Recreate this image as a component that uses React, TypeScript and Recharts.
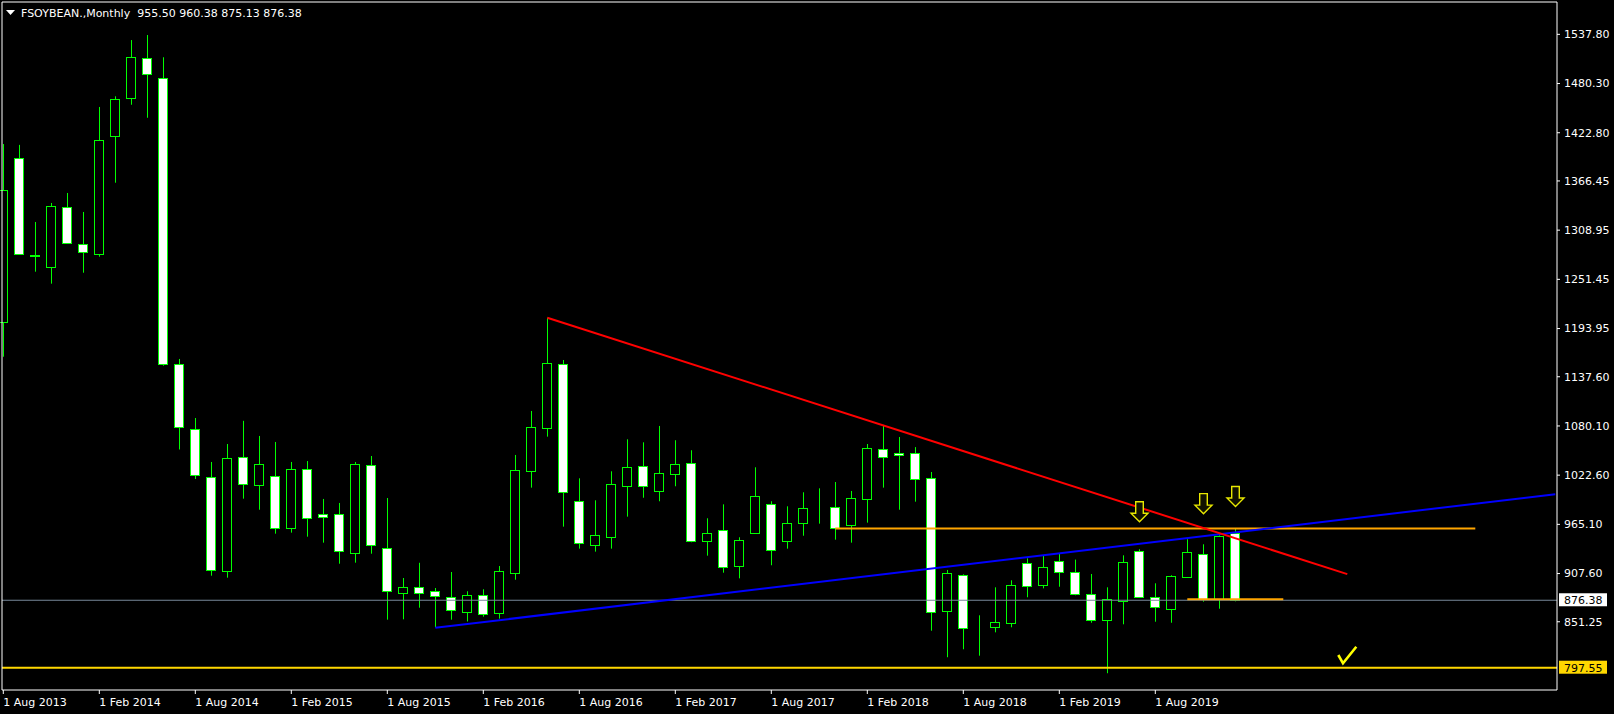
import React from 'react';
import { ComposedChart, Bar, Line, XAxis, YAxis, ReferenceLine } from 'recharts';

// monthly candles, Aug 2013 .. Jan 2020
const firstYear = 2013;
const firstMonth = 7; // Aug
const monthNames = ['Jan', 'Feb', 'Mar', 'Apr', 'May', 'Jun', 'Jul', 'Aug', 'Sep', 'Oct', 'Nov', 'Dec'];

const opens = [
  1201.9, 1393.0, 1278.5, 1265.5, 1335.6, 1292.4, 1280.7, 1418.6, 1463.0, 1509.8, 1486.4, 1152.2,
  1076.2, 1020.1, 910.2, 1043.5, 1010.8, 1021.3, 960.5, 1029.4, 976.9, 976.9, 931.3, 1034.1,
  937.1, 884.5, 891.5, 886.9, 879.9, 863.0, 882.2, 861.2, 908.6, 1027.8, 1078.1, 1152.2,
  992.1, 941.3, 950.7, 1010.3, 1033.0, 1003.8, 1023.6, 1036.5, 945.3, 958.2, 916.1, 954.7,
  988.5, 945.3, 966.3, 984.0, 985.8, 964.0, 994.4, 1052.8, 1048.5, 1048.0, 1018.9, 863.5,
  905.6, 844.6, 844.8, 849.5, 919.6, 893.9, 921.9, 909.1, 883.4, 853.0, 875.2, 933.6,
  879.9, 865.8, 903.2, 930.1, 877.5, 955.5,
];
const highs = [
  1409.6, 1408.6, 1318.5, 1340.7, 1352.4, 1330.2, 1452.9, 1465.4, 1531.1, 1537.0, 1511.0, 1158.4,
  1089.4, 1038.0, 1059.0, 1086.1, 1068.4, 1061.4, 1038.0, 1039.1, 994.8, 990.1, 1038.0, 1045.0,
  995.9, 902.4, 920.2, 890.7, 909.4, 886.9, 889.2, 916.4, 1046.2, 1097.6, 1206.6, 1157.2,
  1018.9, 993.2, 1027.1, 1064.5, 1061.0, 1080.1, 1063.4, 1051.7, 972.2, 988.5, 950.0, 1031.8,
  992.1, 986.2, 1002.6, 1007.2, 1014.6, 1004.1, 1059.0, 1081.3, 1067.2, 1055.4, 1026.3, 911.8,
  906.7, 858.8, 891.5, 899.7, 925.4, 928.5, 930.8, 923.9, 907.1, 891.5, 928.9, 936.0,
  896.2, 905.6, 947.7, 941.8, 952.3, 960.38,
];
const lows = [
  1161.0, 1280.0, 1260.4, 1246.4, 1293.4, 1259.2, 1277.9, 1364.4, 1455.5, 1440.3, 1150.5, 1052.6,
  1018.1, 905.1, 902.8, 995.1, 982.2, 954.2, 955.4, 950.7, 943.7, 919.1, 920.3, 930.8,
  853.7, 854.1, 867.7, 844.8, 853.7, 851.6, 857.2, 854.9, 900.4, 1008.0, 1067.6, 962.4,
  936.7, 933.2, 936.7, 974.1, 996.2, 992.1, 1009.6, 944.2, 928.5, 908.6, 902.0, 954.0,
  917.3, 936.7, 951.8, 965.9, 947.2, 943.7, 967.1, 1008.0, 982.2, 991.6, 840.8, 809.8,
  819.1, 811.6, 838.9, 844.8, 879.9, 890.3, 892.2, 882.2, 850.1, 791.1, 848.3, 879.0,
  851.3, 850.1, 902.5, 874.7, 866.5, 875.13,
];
const closes = [
  1355.9, 1280.7, 1279.5, 1336.8, 1294.3, 1283.1, 1413.9, 1462.2, 1510.9, 1491.1, 1152.2, 1079.3,
  1023.2, 911.4, 1042.3, 1012.6, 1035.3, 960.5, 1029.4, 972.2, 973.4, 933.6, 1035.3, 940.6,
  886.9, 891.5, 884.5, 881.0, 864.7, 882.2, 860.0, 910.3, 1028.3, 1078.5, 1153.3, 1002.6,
  943.0, 952.3, 1011.9, 1031.8, 1010.3, 1024.8, 1035.3, 945.3, 954.7, 915.0, 946.5, 997.9,
  934.8, 966.3, 983.9, 984.6, 960.5, 995.5, 1054.0, 1043.5, 1046.5, 1017.8, 862.4, 907.9,
  843.7, 845.0, 850.6, 893.9, 892.7, 914.9, 909.1, 883.4, 853.0, 877.5, 920.8, 879.9,
  868.2, 904.4, 932.5, 877.5, 951.2, 876.38,
];

const emptySlots = 20; // chart shift on the right

const priceTicks = [1537.8, 1480.3, 1422.8, 1366.45, 1308.95, 1251.45, 1193.95, 1137.6, 1080.1, 1022.6, 965.1, 907.6, 851.25];

// drawn objects (bar index, price)
const redTrend = [{ i: 34, v: 1206.6 }, { i: 84, v: 906.9 }];
const blueTrend = [{ i: 27, v: 844.2 }, { i: 97, v: 1000.4 }];
const resistance = [{ i: 52, v: 960.38 }, { i: 92, v: 960.38 }];
const support = [{ i: 74, v: 877.5 }, { i: 80, v: 877.5 }];
const arrows = [{ i: 71, v: 979.9 }, { i: 75, v: 989.3 }, { i: 77, v: 997.7 }];
const checks = [{ i: 84, v: 812.4 }];

const bidPrice = 876.38;
const floorPrice = 797.55;

const monthLabel = (i: number) => {
  const m = firstMonth + i;
  return `1 ${monthNames[m % 12]} ${firstYear + Math.floor(m / 12)}`;
};

const data: any[] = [];
for (let i = 0; i < opens.length + emptySlots; i++) {
  data.push({
    t: i < opens.length ? monthLabel(i) : `+${i}`,
    o: opens[i],
    h: highs[i],
    l: lows[i],
    c: closes[i],
  });
}
const put = (list: { i: number; v: number }[], key: string) =>
  list.forEach((p) => {
    data[p.i][key] = p.v;
  });
put(redTrend, 'red');
put(blueTrend, 'blue');
put(resistance, 'res');
put(support, 'sup');
put(arrows, 'arrow');
put(checks, 'check');

const dateTicks = data.filter((d, i) => i < opens.length && i % 6 === 0).map((d) => d.t);

const FONT = '"DejaVu Sans", sans-serif';

const Candle = (props: any) => {
  const { x, y, width, height, payload } = props;
  if (!payload || payload.h == null) return <g />;
  const top = Math.min(y, y + height);
  const bottom = Math.max(y, y + height);
  const span = payload.h - payload.l;
  const px = (v: number) => top + ((payload.h - v) / span) * (bottom - top);
  const c = Math.round(x + width / 2);
  const up = payload.c >= payload.o;
  const bTop = Math.round(px(Math.max(payload.o, payload.c)));
  const bBot = Math.round(px(Math.min(payload.o, payload.c)));
  return (
    <g>
      <line x1={c + 0.5} x2={c + 0.5} y1={top} y2={bottom} stroke="#00ff00" strokeWidth={1} />
      <rect
        x={c - 4.5}
        y={bTop + 0.5}
        width={9}
        height={Math.max(bBot - bTop, 0)}
        fill={up ? '#000000' : '#ffffff'}
        stroke="#00ff00"
        strokeWidth={1}
      />
    </g>
  );
};

const ArrowDot = (p: any) => {
  if (p.value == null || p.cy == null) return <g key={`a${p.index}`} />;
  const cx = Math.round(p.cx) + 0.5;
  const top = p.cy - 10;
  const sb = p.cy + 1.5;
  const tip = p.cy + 10;
  const d = `M${cx - 3.8},${top} L${cx + 3.8},${top} L${cx + 3.8},${sb} L${cx + 8.5},${sb} L${cx},${tip} L${cx - 8.5},${sb} L${cx - 3.8},${sb} Z`;
  return <path key={`a${p.index}`} d={d} fill="#111100" stroke="#e8e800" strokeWidth={1.4} />;
};

const CheckDot = (p: any) => {
  if (p.value == null || p.cy == null) return <g key={`c${p.index}`} />;
  const { cx, cy } = p;
  const d = `M${cx - 9},${cy} L${cx - 4.3},${cy + 8.3} L${cx + 9},${cy - 8.3}`;
  return (
    <path key={`c${p.index}`} d={d} fill="none" stroke="#ffff00" strokeWidth={2.6} strokeLinejoin="miter" strokeLinecap="butt" />
  );
};

const DateTick = (props: any) => {
  const { x, y, payload } = props;
  const label = String(payload.value);
  if (!label.startsWith('1 ')) return <g />;
  return (
    <g>
      <line x1={x} x2={x} y1={y - 4} y2={y} stroke="#ffffff" />
      <text x={x} y={y + 12} fill="#ffffff" fontSize={11} fontFamily={FONT} textAnchor="start">
        {label}
      </text>
    </g>
  );
};

const priceTag = (value: number, bg: string) => (props: any) => {
  const vb = props.viewBox || {};
  const right = vb.x + vb.width;
  const ly = vb.y;
  return (
    <g>
      <rect x={right + 2} y={ly - 7} width={48} height={13} fill={bg} />
      <text x={right + 7} y={ly + 4} fill="#000000" fontSize={11} fontFamily={FONT}>
        {value.toFixed(2)}
      </text>
    </g>
  );
};

export default function App() {
  return (
    <div style={{ position: 'absolute', left: 0, top: 0, width: 1614, height: 714, background: '#000000', overflow: 'hidden' }}>
      <ComposedChart width={1614} height={714} data={data} margin={{ top: 1, right: 0, bottom: 0, left: 1 }}>
        <XAxis xAxisId="frame" orientation="top" height={1} tick={false} tickLine={false} axisLine={{ stroke: '#ffffff' }} />
        <YAxis yAxisId="frame" orientation="left" width={1} tick={false} tickLine={false} axisLine={{ stroke: '#ffffff' }} />
        <XAxis
          dataKey="t"
          height={24}
          interval={0}
          ticks={dateTicks}
          tickLine={false}
          tickSize={4}
          tickMargin={0}
          axisLine={{ stroke: '#ffffff' }}
          tick={<DateTick />}
          padding={{ left: -6.7, right: -6.3 }}
        />
        <YAxis
          orientation="right"
          width={57}
          domain={[771.5, 1575.6]}
          allowDataOverflow
          ticks={priceTicks}
          interval={0}
          axisLine={{ stroke: '#ffffff' }}
          tickLine={{ stroke: '#ffffff' }}
          tickSize={3}
          tickMargin={4}
          tick={{ fill: '#ffffff', fontSize: 11, fontFamily: FONT }}
          tickFormatter={(v: number) => v.toFixed(2)}
        />
        <ReferenceLine y={bidPrice} stroke="#778899" strokeWidth={1} label={priceTag(bidPrice, '#ffffff')} />
        <ReferenceLine y={floorPrice} stroke="#ffd700" strokeWidth={2} label={priceTag(floorPrice, '#ffd700')} />
        <Bar dataKey={(d: any) => (d.h == null ? null : [d.l, d.h])} shape={<Candle />} isAnimationActive={false} />
        <Line dataKey="res" stroke="#ffa500" strokeWidth={2} dot={false} activeDot={false} connectNulls isAnimationActive={false} />
        <Line dataKey="sup" stroke="#ffa500" strokeWidth={2} dot={false} activeDot={false} connectNulls isAnimationActive={false} />
        <Line dataKey="blue" stroke="#0000ff" strokeWidth={2} dot={false} activeDot={false} connectNulls isAnimationActive={false} />
        <Line dataKey="red" stroke="#ff0000" strokeWidth={2} dot={false} activeDot={false} connectNulls isAnimationActive={false} />
        <Line dataKey="arrow" stroke="none" dot={ArrowDot} activeDot={false} isAnimationActive={false} />
        <Line dataKey="check" stroke="none" dot={CheckDot} activeDot={false} isAnimationActive={false} />
      </ComposedChart>
      <svg style={{ position: 'absolute', left: 0, top: 0 }} width={400} height={24}>
        <polygon points="6,10 15,10 10.5,15" fill="#ffffff" />
        <text x={21} y={17} fill="#ffffff" fontSize={11} fontFamily={FONT}>
          FSOYBEAN.,Monthly{'\u00a0\u00a0'}955.50 960.38 875.13 876.38
        </text>
      </svg>
    </div>
  );
}
